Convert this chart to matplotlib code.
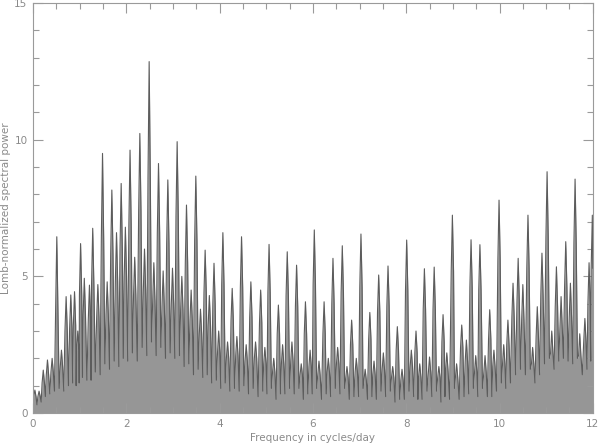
import numpy as np
import matplotlib
matplotlib.use('Agg')
import matplotlib.pyplot as plt
from matplotlib.ticker import MultipleLocator

# peak positions (cycles/day) and heights
peak_freq = [0.04, 0.13, 0.22, 0.31, 0.41, 0.51, 0.61, 0.71, 0.81, 0.89,
             0.96, 1.02, 1.10, 1.21, 1.28, 1.39, 1.49, 1.59, 1.69, 1.79,
             1.89, 1.98, 2.08, 2.18, 2.29, 2.39, 2.49, 2.59, 2.69, 2.79,
             2.89, 2.99, 3.09, 3.19, 3.29, 3.39, 3.49, 3.59, 3.69, 3.78,
             3.88, 3.98, 4.07, 4.17, 4.27, 4.37, 4.47, 4.57, 4.67, 4.77,
             4.88, 4.97, 5.06, 5.16, 5.26, 5.35, 5.45, 5.55, 5.65, 5.75,
             5.84, 5.94, 6.03, 6.13, 6.24, 6.33, 6.43, 6.53, 6.63, 6.73,
             6.83, 6.93, 7.03, 7.12, 7.22, 7.31, 7.41, 7.51, 7.61, 7.71,
             7.81, 7.91, 8.01, 8.11, 8.21, 8.29, 8.39, 8.50, 8.60, 8.70,
             8.79, 8.87, 8.99, 9.08, 9.19, 9.29, 9.39, 9.49, 9.58, 9.69,
             9.79, 9.88, 9.99, 10.09, 10.18, 10.29, 10.40, 10.50, 10.61, 10.71,
             10.81, 10.91, 11.02, 11.12, 11.22, 11.32, 11.42, 11.52, 11.62, 11.72,
             11.83, 11.92, 11.99]
peak_power = [0.84, 0.80, 1.57, 1.94, 2.0, 6.45, 2.3, 4.26, 4.32, 4.44,
              3.0, 6.2, 4.93, 4.68, 6.76, 4.7, 9.5, 4.8, 8.16, 6.6,
              8.4, 6.8, 9.62, 5.7, 10.23, 6.0, 12.86, 5.5, 9.13, 5.2,
              8.53, 5.3, 9.93, 5.0, 7.61, 4.5, 8.67, 3.8, 5.96, 4.3,
              5.48, 3.0, 6.6, 2.6, 4.56, 2.8, 6.45, 2.5, 4.8, 2.6,
              4.5, 2.4, 6.17, 2.0, 3.95, 2.5, 5.9, 2.6, 5.41, 1.8,
              4.07, 2.3, 6.7, 1.9, 4.07, 2.0, 5.66, 2.4, 6.12, 1.7,
              3.4, 2.0, 6.55, 1.6, 3.68, 1.9, 5.05, 2.2, 5.38, 1.7,
              3.16, 1.6, 6.33, 2.3, 3.0, 1.8, 5.28, 2.05, 5.34, 1.7,
              3.6, 2.2, 7.24, 1.8, 3.22, 2.67, 6.34, 2.1, 6.16, 2.1,
              3.78, 2.3, 7.79, 2.5, 3.4, 4.75, 5.66, 4.7, 7.24, 2.4,
              3.89, 5.85, 8.83, 3.0, 5.35, 4.26, 6.27, 4.75, 8.56, 2.9,
              3.46, 5.5, 7.24]
# height where each spike's grey body widens out (below the thin tip)
shoulder_power = [0.6, 0.6, 1.1, 1.4, 1.5, 3.8, 1.7, 3.0, 3.1, 3.2,
                  2.3, 4.3, 3.6, 3.4, 4.7, 3.5, 6.4, 3.6, 5.8, 4.8,
                  6.0, 5.0, 6.9, 4.3, 7.4, 4.5, 8.6, 4.1, 6.6, 3.9,
                  6.2, 4.0, 7.2, 3.8, 5.5, 3.4, 6.3, 2.9, 4.4, 3.2,
                  4.0, 2.2, 4.7, 2.0, 3.4, 2.1, 4.6, 1.9, 3.5, 2.0,
                  3.3, 1.8, 4.4, 1.5, 2.9, 1.8, 4.3, 1.9, 3.9, 1.4,
                  2.9, 1.7, 4.7, 1.4, 2.9, 1.5, 4.0, 1.8, 4.4, 1.3,
                  2.5, 1.5, 4.6, 1.2, 2.7, 1.4, 3.7, 1.6, 3.9, 1.3,
                  2.3, 1.2, 4.5, 1.7, 2.2, 1.3, 3.8, 1.5, 3.8, 1.3,
                  2.6, 1.6, 5.2, 1.3, 2.4, 1.9, 4.6, 1.5, 4.5, 1.5,
                  2.7, 1.7, 5.6, 1.8, 2.5, 3.5, 4.1, 3.4, 5.3, 1.8,
                  2.8, 4.3, 6.4, 2.2, 3.9, 3.1, 4.6, 3.5, 6.2, 2.1,
                  2.6, 4.0, 5.3]
# lowest level reached just after each peak
trough_power = [0.3, 0.4, 0.6, 0.7, 0.8, 0.9, 0.8, 1.0, 1.1, 1.0,
                1.1, 1.3, 1.2, 1.2, 1.5, 1.4, 1.8, 1.6, 1.9, 1.7,
                2.0, 1.9, 2.2, 1.9, 2.4, 2.1, 2.6, 2.1, 2.4, 2.0,
                2.2, 2.0, 2.1, 1.7, 1.8, 1.4, 1.6, 1.3, 1.4, 1.1,
                1.2, 0.9, 1.1, 0.8, 0.9, 0.8, 1.0, 0.7, 0.9, 0.6,
                0.8, 0.7, 0.9, 0.5, 0.7, 0.7, 0.9, 0.7, 0.9, 0.5,
                0.7, 0.7, 0.9, 0.5, 0.7, 0.6, 0.9, 0.7, 0.9, 0.5,
                0.6, 0.6, 0.9, 0.5, 0.6, 0.5, 0.8, 0.6, 0.8, 0.4,
                0.5, 0.5, 0.8, 0.6, 0.5, 0.5, 0.8, 0.6, 0.8, 0.4,
                0.6, 0.5, 0.9, 0.5, 0.6, 0.7, 0.9, 0.6, 0.9, 0.6,
                0.6, 0.8, 1.1, 0.9, 1.1, 1.4, 1.6, 1.4, 1.6, 1.1,
                1.4, 1.8, 2.0, 1.6, 1.9, 2.0, 1.9, 1.8, 2.0, 1.4,
                1.6, 1.9]

# build the trace: trough - shoulder - tip - shoulder - trough
freq = [0.0]
power = [0.3]
half_width = 0.025
for i in range(len(peak_freq)):
    freq += [peak_freq[i] - half_width, peak_freq[i], peak_freq[i] + half_width]
    power += [shoulder_power[i], peak_power[i], shoulder_power[i]]
    if i < len(trough_power):
        freq.append((peak_freq[i] + peak_freq[i + 1]) / 2)
        power.append(trough_power[i])
freq[-1] = min(freq[-1], 12.0)

grey = '#9a9a9a'
fig = plt.figure(figsize=(6.0, 4.46), dpi=100)
ax = fig.add_axes([0.055, 0.074, 0.933, 0.919])

ax.fill_between(freq, power, 0, color='#969696', lw=0)
ax.plot(freq, power, color='#5c5c5c', lw=0.8)

ax.set_xlim(0, 12)
ax.set_ylim(0, 15)
ax.xaxis.set_major_locator(MultipleLocator(2))
ax.xaxis.set_minor_locator(MultipleLocator(0.5))
ax.yaxis.set_major_locator(MultipleLocator(5))
ax.yaxis.set_minor_locator(MultipleLocator(1))
ax.tick_params(which='both', direction='in', top=True, right=True,
               color=grey, width=0.8, labelcolor='#8a8a8a', labelsize=7.5)
ax.tick_params(which='major', length=7, pad=4)
ax.tick_params(which='minor', length=4)
for s in ax.spines.values():
    s.set_color(grey)
    s.set_linewidth(0.8)

ax.set_xlabel('Frequency in cycles/day', color='#8a8a8a', fontsize=7.5)
ax.set_ylabel('Lomb-normalized spectral power', color='#8a8a8a', fontsize=7.5)
ax.xaxis.set_label_coords(0.5, -0.05)
ax.yaxis.set_label_coords(-0.039, 0.5)

fig.savefig('out.png', dpi=100)
